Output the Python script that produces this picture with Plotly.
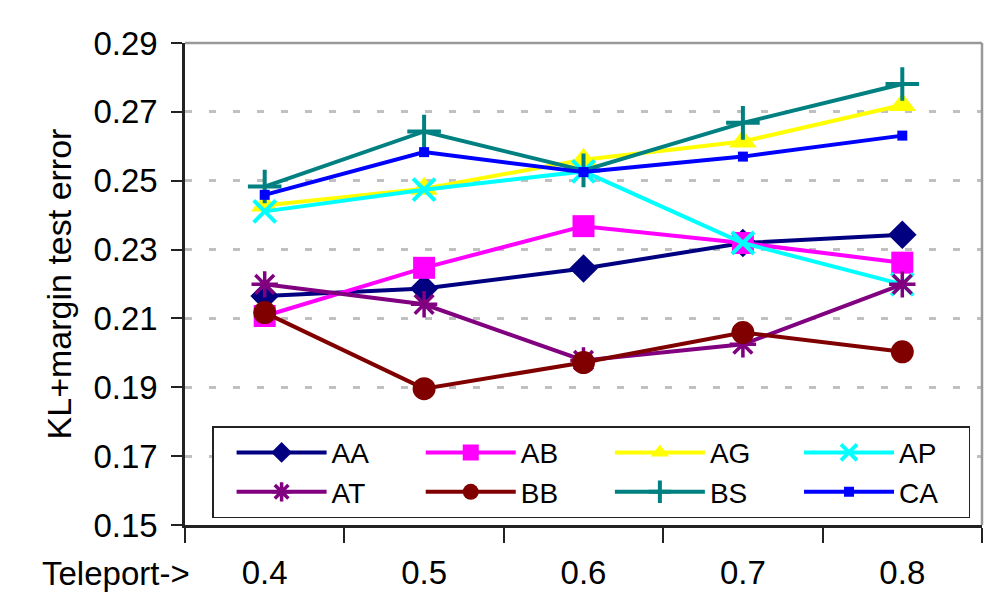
import plotly.graph_objects as go

teleport = ["0.4", "0.5", "0.6", "0.7", "0.8"]

AA = [0.2165, 0.2187, 0.2245, 0.2319, 0.2343]
AB = [0.2107, 0.2247, 0.2368, 0.2319, 0.2262]
AG = [0.2428, 0.2477, 0.2561, 0.2614, 0.2720]
AP = [0.2411, 0.2474, 0.2527, 0.2319, 0.2199]
AT = [0.2199, 0.2141, 0.1978, 0.2025, 0.2199]
BB = [0.2117, 0.1896, 0.1972, 0.2059, 0.2003]
BS = [0.2483, 0.2643, 0.2530, 0.2668, 0.2781]
CA = [0.2459, 0.2583, 0.2525, 0.2570, 0.2631]

y_ticks = [0.15, 0.17, 0.19, 0.21, 0.23, 0.25, 0.27, 0.29]

series = [
    ("AA", AA, "#000080", dict(symbol="diamond", size=22)),
    ("AB", AB, "#FF00FF", dict(symbol="square", size=22)),
    ("AG", AG, "#FFFF00", dict(symbol="triangle-up", size=24)),
    ("AP", AP, "#00FFFF", dict(symbol="x-thin-open", size=22, line=dict(width=4))),
    ("AT", AT, "#800080", dict(symbol="asterisk-open", size=22, line=dict(width=3.5))),
    ("BB", BB, "#800000", dict(symbol="circle", size=23)),
    ("BS", BS, "#008080", dict(symbol="cross-thin-open", size=24, line=dict(width=4))),
    ("CA", CA, "#0000FF", dict(symbol="square", size=10)),
]

# trailing padding so legend columns are spaced like the reference
PAD = "\u00a0\u00a0\u00a0\u200a"

fig = go.Figure()
for name, vals, color, mk in series:
    m = dict(color=color)
    m.update(mk)
    if "line" in m:
        m["line"] = dict(color=color, width=m["line"]["width"])
    fig.add_trace(go.Scatter(
        x=teleport, y=vals, name=name + PAD, mode="lines+markers",
        line=dict(color=color, width=4), marker=m,
    ))

font_family = "Liberation Sans, Arial, sans-serif"

fig.update_layout(
    width=994, height=592,
    margin=dict(l=185, r=12, t=43, b=67, autoexpand=False),
    paper_bgcolor="white", plot_bgcolor="white",
    font=dict(family=font_family, size=33, color="black"),
    showlegend=True,
    legend=dict(
        orientation="h", x=0.034, y=0.205, xanchor="left", yanchor="top",
        bordercolor="#222222", borderwidth=1.5, bgcolor="white",
        font=dict(size=28),
        itemwidth=90, tracegroupgap=0, indentation=18,
    ),
    xaxis=dict(
        type="category", tickson="boundaries", ticks="outside", ticklen=15,
        tickwidth=1.5, tickcolor="#222222",
        showline=True, linecolor="#222222", linewidth=2.5,
        showgrid=False, range=[-0.5, 4.5], fixedrange=True,
        tickfont=dict(size=33), ticklabelstandoff=17,
    ),
    yaxis=dict(
        range=[0.15, 0.29], tickvals=y_ticks, tickformat=".2f",
        ticks="outside", ticklen=11, tickwidth=1.5, tickcolor="#222222",
        showline=True, linecolor="#222222", linewidth=2.5,
        showgrid=True, gridcolor="#c0c0c0", gridwidth=3, griddash="7px,17px",
        zeroline=False, tickfont=dict(size=33), ticklabelstandoff=7,
        title=dict(text="KL+margin test error", font=dict(size=34), standoff=12),
    ),
    annotations=[dict(
        text="Teleport->", xref="paper", yref="paper", x=-0.182, y=-0.100,
        xanchor="left", yanchor="middle", showarrow=False, font=dict(size=33),
    )],
    shapes=[
        dict(type="line", xref="x domain", yref="y domain", x0=0, x1=1, y0=1, y1=1,
             line=dict(color="#999999", width=2.5), layer="above"),
        dict(type="line", xref="x domain", yref="y domain", x0=1, x1=1, y0=0, y1=1,
             line=dict(color="#999999", width=2.5), layer="above"),
    ],
)

fig.write_html("out.html")
